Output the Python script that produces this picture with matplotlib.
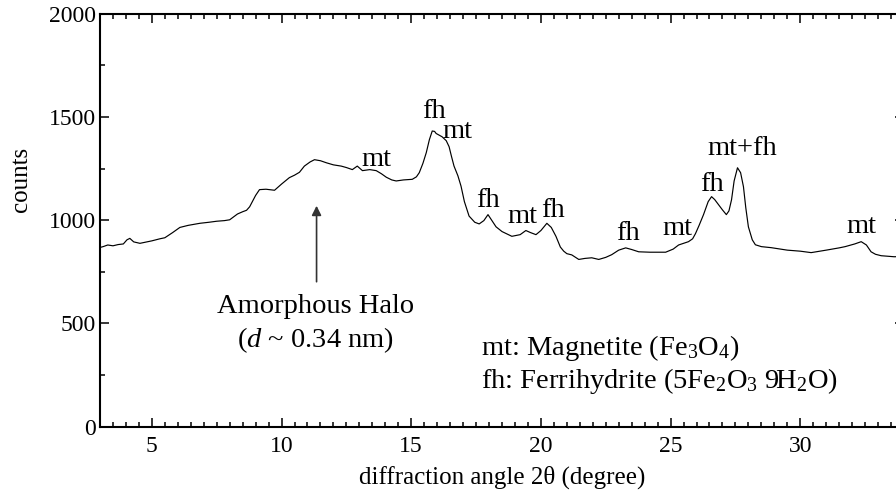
import matplotlib
matplotlib.use("Agg")
import matplotlib.pyplot as plt
from matplotlib.ticker import MultipleLocator

plt.rcParams['font.family'] = ['Liberation Serif', 'DejaVu Serif']
plt.rcParams['mathtext.fontset'] = 'custom'
plt.rcParams['mathtext.rm'] = 'Liberation Serif'
plt.rcParams['mathtext.it'] = 'Liberation Serif:italic'

# XRD pattern: diffraction angle 2θ (degree) vs counts
two_theta = [3.00, 3.12, 3.3, 3.5, 3.7, 3.9, 4.04, 4.15, 4.3, 4.54, 4.8, 5.0,
             5.31, 5.5, 5.8, 6.08, 6.4, 6.85, 7.2, 7.5, 7.8, 8.0, 8.3, 8.5,
             8.65, 8.77, 9.0, 9.15, 9.4, 9.73, 10.0, 10.3, 10.5, 10.69, 10.88,
             11.1, 11.27, 11.5, 11.73, 12.0, 12.3, 12.5, 12.73, 12.92, 13.12,
             13.4, 13.65, 13.85, 14.04, 14.25, 14.42, 14.7, 15.04, 15.2, 15.31,
             15.45, 15.58, 15.7, 15.81, 15.9, 15.96, 16.19, 16.35, 16.46, 16.55,
             16.65, 16.8, 16.92, 17.05, 17.23, 17.45, 17.62, 17.8, 17.96, 18.1,
             18.27, 18.5, 18.88, 19.2, 19.42, 19.6, 19.81, 20.0, 20.23, 20.4,
             20.58, 20.75, 20.88, 21.0, 21.19, 21.46, 21.7, 21.96, 22.23, 22.5,
             22.73, 23.0, 23.27, 23.5, 23.77, 24.2, 24.81, 25.1, 25.31, 25.5,
             25.69, 25.85, 25.96, 26.1, 26.27, 26.45, 26.58, 26.7, 26.85, 27.0,
             27.15, 27.25, 27.35, 27.45, 27.58, 27.7, 27.81, 27.9, 28.0, 28.15,
             28.27, 28.5, 28.88, 29.5, 30.0, 30.42, 31.0, 31.5, 31.73, 32.1,
             32.35, 32.55, 32.73, 32.9, 33.12, 33.4, 33.62, 33.9]
counts = [868, 872, 880, 876, 882, 885, 905, 912, 895, 888, 895, 900,
          910, 915, 940, 965, 975, 985, 990, 995, 998, 1002, 1030, 1041,
          1048, 1065, 1120, 1148, 1150, 1145, 1175, 1206, 1218, 1232, 1262,
          1282, 1293, 1288, 1278, 1268, 1262, 1255, 1245, 1262, 1240,
          1245, 1240, 1225, 1208, 1195, 1190, 1195, 1198, 1210, 1230,
          1275, 1327, 1390, 1432, 1430, 1420, 1404, 1385, 1356, 1310,
          1262, 1215, 1165, 1090, 1020, 990, 982, 998, 1027, 1000,
          968, 945, 922, 930, 950, 940, 930, 950, 985, 965,
          922, 870, 850, 838, 832, 810, 815, 818, 810, 820,
          833, 855, 866, 858, 847, 845, 845, 860, 880, 888,
          896, 910, 935, 975, 1027, 1090, 1114, 1100, 1075, 1050,
          1027, 1045, 1099, 1190, 1254, 1230, 1162, 1060, 968, 905,
          881, 872, 867, 855, 850, 843, 855, 866, 872, 885,
          896, 880, 847, 835, 828, 825, 823, 824]

# Peak assignments (label, 2θ, baseline height of the label)
peak_labels = ["mt", "fh", "mt", "fh", "mt", "fh", "fh", "mt", "fh", "mt+fh", "mt"]
peak_x = [13.65, 15.88, 16.77, 17.96, 19.27, 20.46, 23.35, 25.27, 26.58, 27.77, 32.35]
peak_y = [1264, 1496, 1400, 1065, 988, 1017, 906, 930, 1143, 1317, 939]

fig = plt.figure(figsize=(8.96, 4.93), dpi=100)
ax = fig.add_axes([100 / 896, 66.3 / 493, 804 / 896, 413 / 493])

ax.plot(two_theta, counts, color='black', lw=0.85)

ax.set_xlim(3, 34)
ax.set_ylim(0, 2000)
ax.xaxis.set_major_locator(MultipleLocator(5))
ax.xaxis.set_minor_locator(MultipleLocator(0.5))
ax.yaxis.set_major_locator(MultipleLocator(500))
ax.yaxis.set_minor_locator(MultipleLocator(250))
ax.tick_params(which='both', direction='in', top=True, right=True,
               labelsize=17, width=1.1)
ax.tick_params(which='major', length=6.5)
ax.tick_params(which='minor', length=3.6)
ax.tick_params(axis='x', pad=7)
ax.tick_params(axis='y', pad=3)
for sp in ax.spines.values():
    sp.set_linewidth(1.5)

ax.set_xlabel('diffraction angle 2θ (degree)', fontsize=18, labelpad=6)
ax.set_ylabel('counts', fontsize=18)
ax.yaxis.set_label_coords(-0.084, 0.598)

for lab, px, py in zip(peak_labels, peak_x, peak_y):
    ax.text(px, py, lab, fontsize=20.5, ha='center', va='baseline')

ax.annotate('', xy=(11.35, 1070), xytext=(11.35, 702),
            arrowprops=dict(arrowstyle='-|>', color='#333333', lw=1.2,
                            mutation_scale=14, shrinkA=0, shrinkB=0))
ax.text(11.31, 552, 'Amorphous Halo', fontsize=20.5, ha='center', va='baseline')
ax.text(11.31, 387, r'($\mathit{d}$ ~ 0.34 nm)', fontsize=20.5,
        ha='center', va='baseline')

ax.text(17.69, 349, r'mt: Magnetite (Fe$_3$O$_4$)', fontsize=20.5,
        ha='left', va='baseline')
ax.text(17.69, 189, r'fh: Ferrihydrite (5Fe$_2$O$_3$ 9H$_2$O)', fontsize=20.5,
        ha='left', va='baseline')

fig.savefig('out.png', dpi=100)
